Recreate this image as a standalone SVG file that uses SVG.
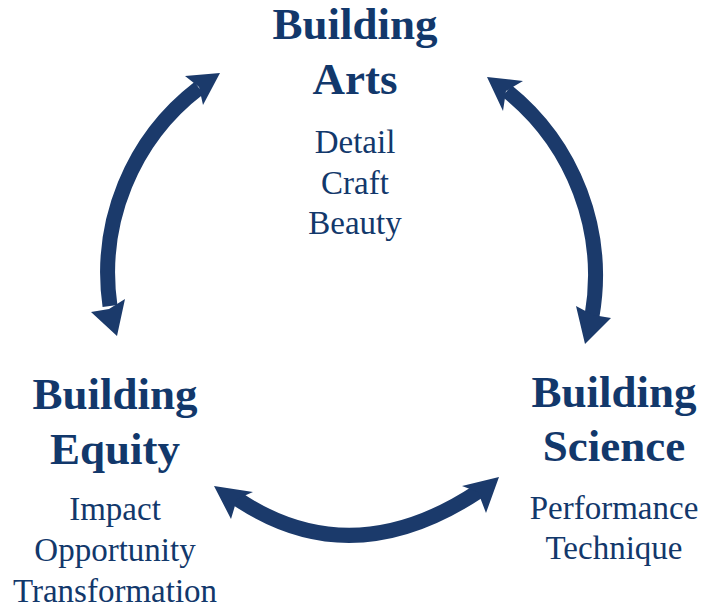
<svg xmlns="http://www.w3.org/2000/svg" width="702" height="611" viewBox="0 0 702 611">
<style>
.h{font-family:"Liberation Serif","Times New Roman",serif;font-weight:bold;font-size:45px;fill:#12386b;text-anchor:middle}
.s{font-family:"Liberation Serif","Times New Roman",serif;font-size:33px;fill:#12386b;text-anchor:middle}
.body{fill:none;stroke:#1b3a6b;stroke-width:15}
.head{fill:#1b3a6b}
</style>
<rect width="702" height="611" fill="#ffffff"/>
<g id="connectors">
<path class="body" d="M110,306 A233,233 0 0 1 199,88"/>
<polygon class="head" points="220,73 185,76 199,87 203,105"/>
<polygon class="head" points="117,336 91,312 109,309 125,299"/>
<path class="body" d="M507,91 A237,237 0 0 1 592,316"/>
<polygon class="head" points="487,77 523,81 506,91 503,111"/>
<polygon class="head" points="585,344 576,306 593,315 611,318"/>
<path class="body" d="M236,498 Q351,576 479,491"/>
<polygon class="head" points="214,486 253,492 237,499 231,519"/>
<polygon class="head" points="499,477 462,486 478,492 486,513"/>
</g>
<g id="node-arts">
<text class="h" x="355" y="39">Building</text>
<text class="h" x="355" y="94">Arts</text>
<text class="s" x="355" y="153">Detail</text>
<text class="s" x="355" y="194">Craft</text>
<text class="s" x="355" y="234">Beauty</text>
</g>
<g id="node-equity">
<text class="h" x="115" y="409">Building</text>
<text class="h" x="115" y="464">Equity</text>
<text class="s" x="115" y="520">Impact</text>
<text class="s" x="115" y="561">Opportunity</text>
<text class="s" x="115" y="602">Transformation</text>
</g>
<g id="node-science">
<text class="h" x="614" y="407">Building</text>
<text class="h" x="614" y="461">Science</text>
<text class="s" x="614" y="519">Performance</text>
<text class="s" x="614" y="559">Technique</text>
</g>
</svg>
